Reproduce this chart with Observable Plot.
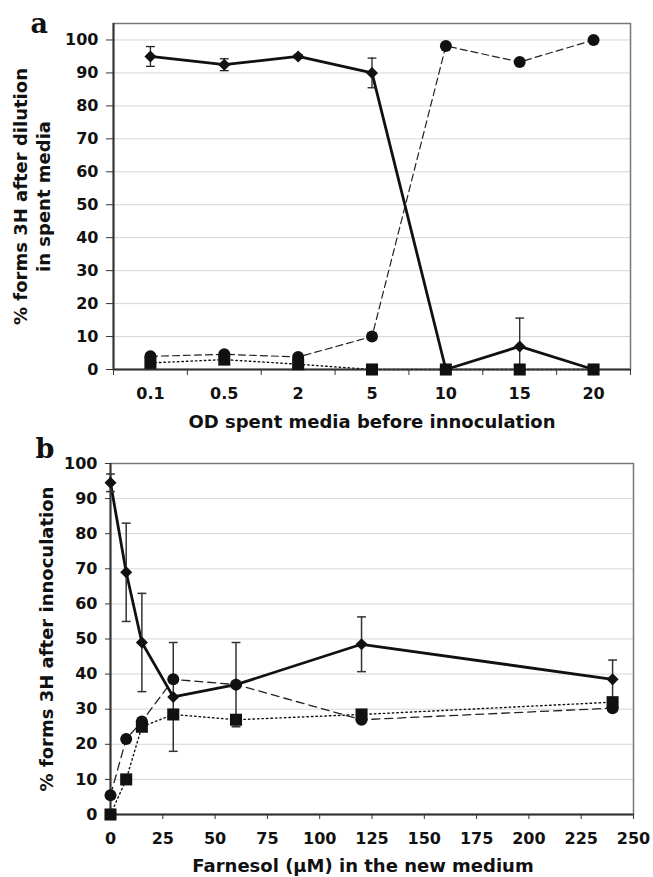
<!DOCTYPE html>
<html><head><meta charset="utf-8">
<script src="https://cdn.jsdelivr.net/npm/d3@7"></script>
<script src="https://cdn.jsdelivr.net/npm/@observablehq/plot@0.6"></script>
<style>
html,body{margin:0;padding:0;background:#fff;}
#chart{width:653px;}
#chart svg{display:block;}
</style></head><body><div id="chart"></div>
<script>
// ---- Panel a data ----
const aCategories = ["0.1", "0.5", "2", "5", "10", "15", "20"];
const aDiamond    = [95, 92.5, 95, 90, 0, 7, 0];
const aDiamondErr = [3, 1.8, 0.6, 4.5, 0, 8.6, 0];
const aCircle     = [4, 4.6, 3.8, 10, 98.2, 93.3, 100];
const aSquare     = [2, 3, 1.6, 0, 0, 0, 0];
const aYTicks     = [0, 10, 20, 30, 40, 50, 60, 70, 80, 90, 100];

// ---- Panel b data ----
const bX          = [0, 7.5, 15, 30, 60, 120, 240];
const bDiamond    = [94.5, 69, 49, 33.5, 37, 48.5, 38.5];
const bDiamondErr = [2.5, 14, 14, 15.5, 12, 7.8, 5.5];
const bCircle     = [5.5, 21.5, 26.5, 38.5, 37, 27, 30.3];
const bSquare     = [0, 10, 25, 28.5, 27, 28.5, 32];
const bXTicks     = [0, 25, 50, 75, 100, 125, 150, 175, 200, 225, 250];
const bYTicks     = [0, 10, 20, 30, 40, 50, 60, 70, 80, 90, 100];

const FONT = "DejaVu Sans";
const INK = "#111";

const diamondSym = {draw(ctx, size) {
  const h = Math.sqrt(size / 2);
  ctx.moveTo(0, -h); ctx.lineTo(h, 0); ctx.lineTo(0, h); ctx.lineTo(-h, 0); ctx.closePath();
}};
const capSym = {draw(ctx, size) {
  const w = Math.sqrt(size) / 2;
  ctx.moveTo(-w, 0); ctx.lineTo(w, 0);
}};

const aData = aCategories.map((c, i) => ({i, c, diamond: aDiamond[i], err: aDiamondErr[i], circle: aCircle[i], square: aSquare[i]}));
const bData = bX.map((x, i) => ({x, diamond: bDiamond[i], err: bDiamondErr[i], circle: bCircle[i], square: bSquare[i]}));

const aXDom = [-0.5, aCategories.length - 0.5];
const aErr = aData.filter(d => d.err > 0);
const bErr = bData.filter(d => d.err > 0);

const baseStyle = {fontFamily: FONT, fontWeight: "bold", fontSize: "16px", color: INK, background: "white", overflow: "visible"};
const titleOpts = {fontSize: 18, fontWeight: "bold", fill: INK};

const chartA = Plot.plot({
  width: 653, height: 434,
  marginLeft: 113, marginRight: 23, marginTop: 23, marginBottom: 65,
  x: {type: "linear", domain: aXDom},
  y: {domain: [0, 105]},
  style: baseStyle,
  marks: [
    Plot.gridY(aYTicks.filter(t => t > 0), {stroke: "#d6d6d6", strokeOpacity: 1, strokeWidth: 1}),
    Plot.frame({stroke: "#777", strokeWidth: 1.5}),
    Plot.line(aData, {x: "i", y: "square", stroke: INK, strokeWidth: 1.4, strokeDasharray: "1.5,3"}),
    Plot.line(aData, {x: "i", y: "circle", stroke: "#222", strokeWidth: 1.2, strokeDasharray: "7,4"}),
    Plot.line(aData, {x: "i", y: "diamond", stroke: INK, strokeWidth: 2.8}),
    Plot.ruleY([0], {stroke: "#333", strokeWidth: 2}),
    Plot.ruleX([aXDom[0]], {stroke: "#333", strokeWidth: 2}),
    Plot.axisY({ticks: aYTicks, tickSize: 7, tickPadding: 8, label: null, stroke: "#333"}),
    Plot.axisX({ticks: d3.range(aXDom[0], aXDom[1] + 0.01, 1), tickSize: 6, tickFormat: () => "", label: null, stroke: "#333"}),
    Plot.axisX({ticks: d3.range(aCategories.length), tickSize: 0, tickPadding: 18, tickFormat: i => aCategories[i], label: null}),
    Plot.ruleX(aErr, {x: "i", y1: d => Math.max(0, d.diamond - d.err), y2: d => d.diamond + d.err, stroke: "#222", strokeWidth: 1.3}),
    Plot.dot(aErr, {x: "i", y: d => d.diamond + d.err, symbol: capSym, r: 5, stroke: "#222", fill: "none", strokeWidth: 1.3}),
    Plot.dot(aErr.filter(d => d.diamond - d.err > 0), {x: "i", y: d => d.diamond - d.err, symbol: capSym, r: 5, stroke: "#222", fill: "none", strokeWidth: 1.3}),
    Plot.dot(aData, {x: "i", y: "diamond", symbol: diamondSym, r: 4.8, fill: INK, stroke: "none"}),
    Plot.dot(aData, {x: "i", y: "square", symbol: "square", r: 6.8, fill: INK, stroke: "none"}),
    Plot.dot(aData, {x: "i", y: "circle", symbol: "circle", r: 6, fill: INK, stroke: "none"}),
    Plot.text(["OD spent media before innoculation"], {frameAnchor: "bottom", textAnchor: "middle", lineAnchor: "top", dy: 46, ...titleOpts}),
    Plot.text(["% forms 3H after dilution"], {frameAnchor: "left", textAnchor: "middle", rotate: -90, lineAnchor: "bottom", dx: -87, ...titleOpts}),
    Plot.text(["in spent media"], {frameAnchor: "left", textAnchor: "middle", rotate: -90, lineAnchor: "bottom", dx: -64, ...titleOpts}),
    Plot.text(["a"], {frameAnchor: "top-left", textAnchor: "start", lineAnchor: "top", dx: -83, dy: -10, fontSize: 27, fontWeight: "bold", fontFamily: "DejaVu Serif", fill: INK})
  ]
});

const chartB = Plot.plot({
  width: 653, height: 443,
  marginLeft: 110, marginRight: 20, marginTop: 29, marginBottom: 63,
  x: {domain: [0, 250]},
  y: {domain: [0, 100]},
  style: baseStyle,
  marks: [
    Plot.gridY(bYTicks.filter(t => t > 0 && t < 100), {stroke: "#d6d6d6", strokeOpacity: 1, strokeWidth: 1}),
    Plot.frame({stroke: "#777", strokeWidth: 1.5}),
    Plot.line(bData, {x: "x", y: "square", stroke: INK, strokeWidth: 1.4, strokeDasharray: "1.5,3"}),
    Plot.line(bData, {x: "x", y: "circle", stroke: "#222", strokeWidth: 1.3, strokeDasharray: "8,5"}),
    Plot.line(bData, {x: "x", y: "diamond", stroke: INK, strokeWidth: 2.8}),
    Plot.ruleY([0], {stroke: "#333", strokeWidth: 2}),
    Plot.ruleX([0], {stroke: "#333", strokeWidth: 2}),
    Plot.axisY({ticks: bYTicks, tickSize: 5, tickPadding: 8, label: null, stroke: "#333"}),
    Plot.axisX({ticks: bXTicks, tickSize: 5, tickPadding: 13, label: null, stroke: "#333"}),
    Plot.ruleX(bErr, {x: "x", y1: d => Math.max(0, d.diamond - d.err), y2: d => d.diamond + d.err, stroke: "#333", strokeWidth: 1.5}),
    Plot.dot(bErr, {x: "x", y: d => d.diamond + d.err, symbol: capSym, r: 5, stroke: "#333", fill: "none", strokeWidth: 1.5}),
    Plot.dot(bErr, {x: "x", y: d => d.diamond - d.err, symbol: capSym, r: 5, stroke: "#333", fill: "none", strokeWidth: 1.5}),
    Plot.dot(bData, {x: "x", y: "diamond", symbol: diamondSym, r: 4.8, fill: INK, stroke: "none"}),
    Plot.dot(bData, {x: "x", y: "square", symbol: "square", r: 6.8, fill: INK, stroke: "none"}),
    Plot.dot(bData, {x: "x", y: "circle", symbol: "circle", r: 6, fill: INK, stroke: "none"}),
    Plot.text(["Farnesol (µM) in the new medium"], {frameAnchor: "bottom", textAnchor: "middle", lineAnchor: "top", dy: 45, dx: -9, ...titleOpts}),
    Plot.text(["% forms 3H after innoculation"], {frameAnchor: "left", textAnchor: "middle", rotate: -90, lineAnchor: "bottom", dx: -58, ...titleOpts}),
    Plot.text(["b"], {frameAnchor: "top-left", textAnchor: "start", lineAnchor: "top", dx: -75, dy: -25, fontSize: 27, fontWeight: "bold", fontFamily: "DejaVu Serif", fill: INK})
  ]
});

const root = document.getElementById("chart");
root.appendChild(chartA);
root.appendChild(chartB);
</script>
</body></html>
